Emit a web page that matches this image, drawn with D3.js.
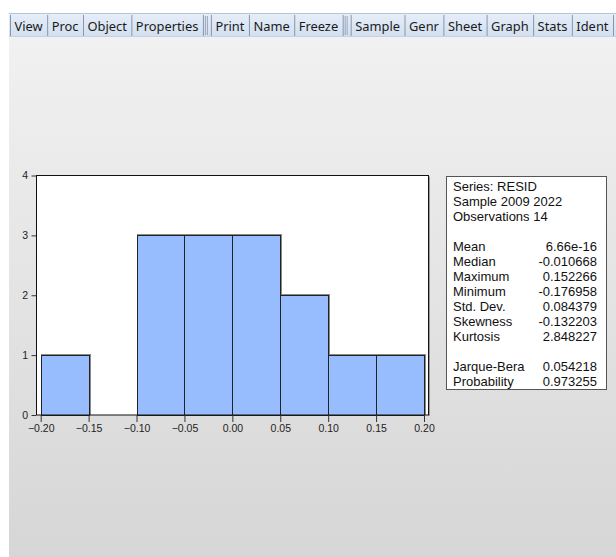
<!DOCTYPE html>
<html>
<head>
<meta charset="utf-8">
<script src="https://cdn.jsdelivr.net/npm/d3@7"></script>
<style>
  html, body { margin: 0; padding: 0; background: #fff; }
  svg { display: block; }
</style>
</head>
<body>
<div id="app"></div>
<script>
// ---- data ----
const toolbarGroups = [
  ["View", "Proc", "Object", "Properties"],
  ["Print", "Name", "Freeze"],
  ["Sample", "Genr", "Sheet", "Graph", "Stats", "Ident"]
];
const binStarts = [-0.20, -0.15, -0.10, -0.05, 0.00, 0.05, 0.10, 0.15];
const binWidth = 0.05;
const counts = [1, 0, 3, 3, 3, 2, 1, 1];
const xTicks = [-0.20, -0.15, -0.10, -0.05, 0.00, 0.05, 0.10, 0.15, 0.20];
const yTicks = [0, 1, 2, 3, 4];
const headerLines = ["Series: RESID", "Sample 2009 2022", "Observations 14"];
const statNames = ["Mean", "Median", "Maximum", "Minimum", "Std. Dev.", "Skewness", "Kurtosis"];
const statValues = ["6.66e-16", "-0.010668", "0.152266", "-0.176958", "0.084379", "-0.132203", "2.848227"];
const testNames = ["Jarque-Bera", "Probability"];
const testValues = ["0.054218", "0.973255"];

// ---- svg ----
const width = 616, height = 557;
const svg = d3.select("#app").append("svg")
  .attr("width", width).attr("height", height);

const defs = svg.append("defs");
const bg = defs.append("linearGradient").attr("id", "bg")
  .attr("x1", 0).attr("y1", 0).attr("x2", 0).attr("y2", 1);
bg.append("stop").attr("offset", "0%").attr("stop-color", "#f1f1f1");
bg.append("stop").attr("offset", "100%").attr("stop-color", "#d6d6d6");
const tb = defs.append("linearGradient").attr("id", "tb")
  .attr("x1", 0).attr("y1", 0).attr("x2", 0).attr("y2", 1);
tb.append("stop").attr("offset", "0%").attr("stop-color", "#e6eef9");
tb.append("stop").attr("offset", "100%").attr("stop-color", "#d3dfef");

// window panel
svg.append("rect").attr("x", 9).attr("y", 37).attr("width", width - 9).attr("height", height - 37)
  .attr("fill", "url(#bg)");

// ---- toolbar ----
const bar = svg.append("g");
bar.append("rect").attr("x", 9).attr("y", 13).attr("width", width - 9).attr("height", 24)
  .attr("fill", "url(#tb)");
bar.append("line").attr("x1", 9).attr("x2", width).attr("y1", 13.5).attr("y2", 13.5)
  .attr("stroke", "#b4c4dc");
bar.append("line").attr("x1", 9).attr("x2", width).attr("y1", 36.5).attr("y2", 36.5)
  .attr("stroke", "#c6d2e3");

const tbFont = "13px 'Noto Sans', 'Open Sans', sans-serif";
const measure = bar.append("text").style("font", tbFont);
const textW = t => { measure.text(t); return measure.node().getComputedTextLength(); };
const pad = 9, groupGap = 8, barStart = 10, barEnd = 613;
const natural = toolbarGroups.flat().map(textW);
measure.remove();
const totalText = d3.sum(natural);
const nButtons = natural.length;
const scale = (barEnd - barStart - groupGap * (toolbarGroups.length - 1) - pad * nButtons) / totalText;

let bx = barStart, k = 0;
toolbarGroups.forEach((grp, gi) => {
  if (gi > 0) {
    // grip between groups
    [bx + 2.5, bx + 4.5].forEach(gx => {
      bar.append("line").attr("x1", gx).attr("x2", gx).attr("y1", 16).attr("y2", 35)
        .attr("stroke", "#97a6bd");
    });
    bx += groupGap;
  }
  bar.append("line").attr("x1", bx + 0.5).attr("x2", bx + 0.5).attr("y1", 15).attr("y2", 36)
    .attr("stroke", "#8796ad");
  grp.forEach(label => {
    const w = natural[k] * scale + pad;
    bar.append("text")
      .attr("x", bx + w / 2).attr("y", 30.5)
      .attr("text-anchor", "middle")
      .attr("textLength", natural[k] * scale).attr("lengthAdjust", "spacingAndGlyphs")
      .style("font", tbFont).attr("fill", "#1a1a1a")
      .text(label);
    bx += w;
    bar.append("line").attr("x1", bx + 0.5).attr("x2", bx + 0.5).attr("y1", 15).attr("y2", 36)
      .attr("stroke", "#8796ad");
    k++;
  });
});

// ---- histogram ----
const frame = { left: 36, right: 428, top: 175.5, bottom: 415 };
const x = d3.scaleLinear().domain([-0.20, 0.20]).range([40.7, 424]);
const y = d3.scaleLinear().domain([0, 4]).range([frame.bottom, frame.top]);

svg.append("rect")
  .attr("x", frame.left).attr("y", frame.top)
  .attr("width", frame.right - frame.left).attr("height", frame.bottom - frame.top)
  .attr("fill", "#fff");
// soft shadow right of frame
svg.append("line").attr("x1", frame.right + 1.5).attr("x2", frame.right + 1.5)
  .attr("y1", frame.top + 1).attr("y2", frame.bottom + 1).attr("stroke", "#9a9a9a");

const bins = binStarts.map((s, i) => ({ x0: s, x1: s + binWidth, n: counts[i] }))
  .filter(d => d.n > 0);

// shadow of bars
svg.append("g").selectAll("rect").data(bins).enter().append("rect")
  .attr("x", d => Math.round(x(d.x0)) + 0.5)
  .attr("y", d => Math.round(y(d.n)) - 0.5)
  .attr("width", d => Math.round(x(d.x1)) - Math.round(x(d.x0)) + 1)
  .attr("height", d => frame.bottom - Math.round(y(d.n)))
  .attr("fill", "none").attr("stroke", "#8a8a8a");

svg.append("g").selectAll("rect").data(bins).enter().append("rect")
  .attr("x", d => Math.round(x(d.x0)) + 0.5)
  .attr("y", d => Math.round(y(d.n)) + 0.5)
  .attr("width", d => Math.round(x(d.x1)) - Math.round(x(d.x0)))
  .attr("height", d => frame.bottom - Math.round(y(d.n)))
  .attr("fill", "#98bdfe").attr("stroke", "#222");

// frame lines
svg.append("rect")
  .attr("x", frame.left + 0.5).attr("y", frame.top)
  .attr("width", frame.right - frame.left).attr("height", frame.bottom - frame.top)
  .attr("fill", "none").attr("stroke", "#111");

// y axis
const yAxis = svg.append("g")
  .attr("transform", `translate(${frame.left},0)`)
  .call(d3.axisLeft(y).tickValues(yTicks).tickFormat(d3.format("d")).tickSize(4.5).tickPadding(3.5));
yAxis.select(".domain").remove();
yAxis.selectAll("line").attr("stroke", "#333");
yAxis.selectAll("text").style("font", "10.5px 'Liberation Sans', Arial, sans-serif").attr("fill", "#222");

// x axis
const xAxis = svg.append("g")
  .attr("transform", `translate(0,${frame.bottom})`)
  .call(d3.axisBottom(x).tickValues(xTicks).tickFormat(d3.format(".2f")).tickSize(7).tickPadding(3));
xAxis.select(".domain").remove();
xAxis.selectAll("line").attr("stroke", "#333");
xAxis.selectAll("text").style("font", "10.5px 'Liberation Sans', Arial, sans-serif").attr("fill", "#222");

// ---- statistics box ----
const box = { left: 446, right: 606, top: 176, bottom: 389 };
svg.append("rect")
  .attr("x", box.left + 0.5).attr("y", box.top + 0.5)
  .attr("width", box.right - box.left).attr("height", box.bottom - box.top)
  .attr("fill", "#fff").attr("stroke", "#555");

const statFont = "13px 'Liberation Sans', Arial, sans-serif";
const lineH = 15, firstBase = 190.7, textLeft = 453, valueRight = 597;
const rows = [];
headerLines.forEach(t => rows.push([t, ""]));
rows.push(["", ""]);
statNames.forEach((t, i) => rows.push([t, statValues[i]]));
rows.push(["", ""]);
testNames.forEach((t, i) => rows.push([t, testValues[i]]));

const st = svg.append("g").style("font", statFont).attr("fill", "#111");
st.selectAll("text.name").data(rows).enter().append("text")
  .attr("class", "name")
  .attr("x", textLeft).attr("y", (d, i) => firstBase + i * lineH)
  .text(d => d[0]);
st.selectAll("text.value").data(rows).enter().append("text")
  .attr("class", "value")
  .attr("x", valueRight).attr("y", (d, i) => firstBase + i * lineH)
  .attr("text-anchor", "end")
  .text(d => d[1]);
</script>
</body>
</html>
